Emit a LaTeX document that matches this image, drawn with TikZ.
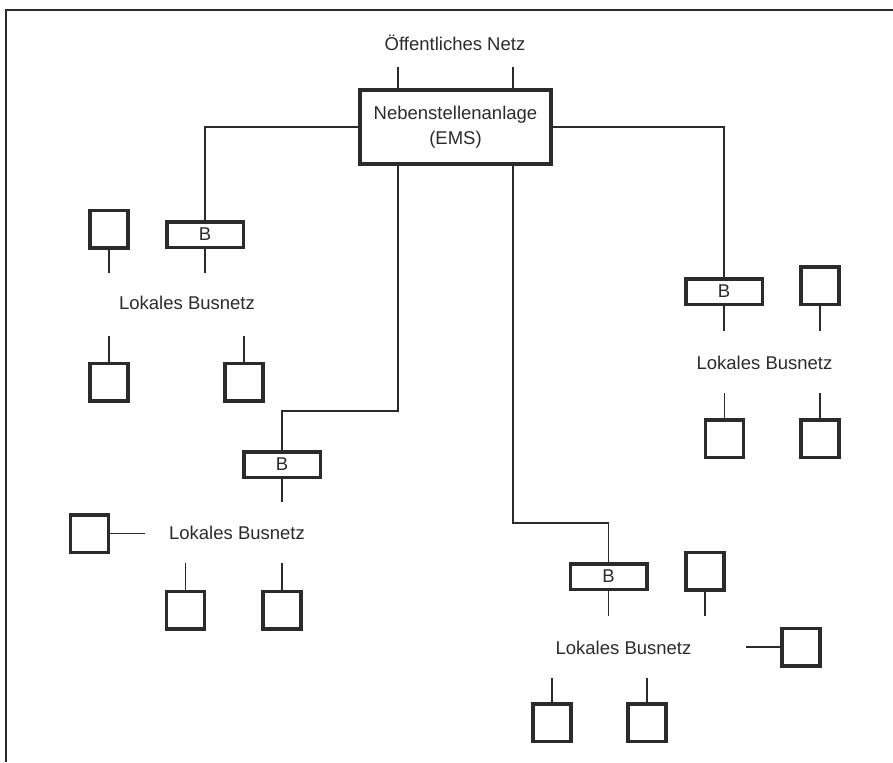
\documentclass[tikz,border=0pt]{standalone}
\usepackage{fontspec}
\setmainfont{Liberation Sans}
\definecolor{ink}{HTML}{2B2B2B}
\begin{document}
\begin{tikzpicture}[x=1pt,y=-1pt,
  every node/.style={text=ink},
  lbl/.style={font=\fontsize{18.5}{25}\selectfont, inner sep=0pt},
  station/.style={draw=ink, line width=3.5pt, minimum width=38pt, minimum height=37.5pt, inner sep=0pt},
  bridge/.style={draw=ink, line width=3.5pt, minimum width=76.5pt, minimum height=25.5pt, inner sep=0pt, font=\fontsize{18.5}{20}\selectfont},
  pbx/.style={draw=ink, line width=3.8pt, minimum width=191pt, minimum height=74pt, inner sep=0pt, align=center, font=\fontsize{18.5}{25}\selectfont},
  wire/.style={draw=ink, line width=1.3pt}]
\useasboundingbox (0,0) rectangle (893,762);
% frame (top and left only)
\draw[draw=ink, line width=1.6pt] (893,10) -- (6,10) -- (6,762);

% exchange
\node[pbx] (main) at (455.5,127) {Nebenstellenanlage\\(EMS)};
\node[lbl] (netz) at (455,43) {Öffentliches Netz};
\coordinate (n1) at (398,67);
\coordinate (n2) at (513,67);
\draw[wire] (n1) -- (n1 |- main.north);
\draw[wire] (n2) -- (n2 |- main.north);

% group 1 (upper left)
\node[bridge] (b1) at (205,234.5) {B};
\node[station] (s1a) at (109,229) {};
\node[lbl] (t1) at (187,303) {Lokales Busnetz};
\node[station] (s1b) at (109,382) {};
\node[station] (s1c) at (244,382) {};
\coordinate (e1) at (205,273);
\coordinate (e1a) at (109,273);
\coordinate (e1b) at (109,336);
\coordinate (e1c) at (244,336);
\draw[wire] (main.west) -| (b1.north);
\draw[wire] (b1.south) -- (e1);
\draw[wire] (s1a.south) -- (e1a);
\draw[wire] (e1b) -- (s1b.north);
\draw[wire] (e1c) -- (s1c.north);

% group 2 (lower left)
\node[bridge] (b2) at (282,464.5) {B};
\node[lbl] (t2) at (237,533) {Lokales Busnetz};
\node[station] (s2a) at (89.5,533.5) {};
\node[station] (s2b) at (185.5,610) {};
\node[station] (s2c) at (282,610) {};
\coordinate (k2) at (398,411);
\coordinate (e2) at (282,502);
\coordinate (e2a) at (145,533.5);
\coordinate (e2b) at (185.5,563);
\coordinate (e2c) at (282,563);
\draw[wire] (main.south -| k2) -- (k2) -| (b2.north);
\draw[wire] (b2.south) -- (e2);
\draw[wire] (s2a.east) -- (e2a);
\draw[wire] (e2b) -- (s2b.north);
\draw[wire] (e2c) -- (s2c.north);

% group 3 (lower right)
\node[bridge] (b3) at (608.5,576.5) {B};
\node[station] (s3a) at (705,571) {};
\node[lbl] (t3) at (623.5,648) {Lokales Busnetz};
\node[station] (s3b) at (801,647) {};
\node[station] (s3c) at (552,722.5) {};
\node[station] (s3d) at (647,722.5) {};
\coordinate (k3) at (513,523);
\coordinate (e3) at (608.5,616);
\coordinate (e3a) at (705,616);
\coordinate (e3b) at (746,647);
\coordinate (e3c) at (552,678);
\coordinate (e3d) at (647,678);
\draw[wire] (main.south -| k3) -- (k3) -| (b3.north);
\draw[wire] (b3.south) -- (e3);
\draw[wire] (s3a.south) -- (e3a);
\draw[wire] (e3b) -- (s3b.west);
\draw[wire] (e3c) -- (s3c.north);
\draw[wire] (e3d) -- (s3d.north);

% group 4 (upper right)
\node[bridge] (b4) at (724,291.5) {B};
\node[station] (s4a) at (820,285.5) {};
\node[lbl] (t4) at (764.5,363) {Lokales Busnetz};
\node[station] (s4b) at (724.5,438.5) {};
\node[station] (s4c) at (820,438.5) {};
\coordinate (e4) at (724,331);
\coordinate (e4a) at (820,331);
\coordinate (e4b) at (724.5,393);
\coordinate (e4c) at (820,393);
\draw[wire] (main.east) -| (b4.north);
\draw[wire] (b4.south) -- (e4);
\draw[wire] (s4a.south) -- (e4a);
\draw[wire] (e4b) -- (s4b.north);
\draw[wire] (e4c) -- (s4c.north);
\end{tikzpicture}
\end{document}
